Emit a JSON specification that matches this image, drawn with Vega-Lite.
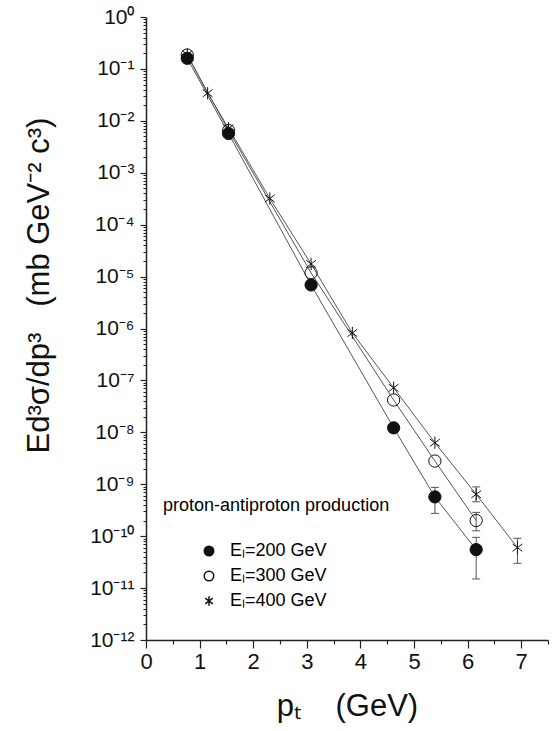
{
  "$schema": "https://vega.github.io/schema/vega-lite/v6.json",
  "autosize": "none",
  "padding": {"left": 146, "top": 17, "right": 4, "bottom": 91},
  "width": 402,
  "height": 623,
  "background": "white",
  "config": {
    "view": {"stroke": null},
    "font": "Liberation Sans",
    "axis": {"grid": false, "domainColor": "#222", "tickColor": "#222", "labelColor": "#111", "titleColor": "#111", "domainWidth": 1.5, "tickWidth": 1.2, "titleFontWeight": "normal", "labelFont": "Liberation Sans", "titleFont": "Liberation Sans"},
    "legend": {"labelFont": "Liberation Sans", "titleFont": "Liberation Sans"}
  },
  "datasets": {
    "pts": [
      {"E": 200, "pT": 0.77, "v": 0.16},
      {"E": 200, "pT": 1.54, "v": 0.0057},
      {"E": 200, "pT": 3.08, "v": 6.9e-6},
      {"E": 200, "pT": 4.62, "v": 1.22e-8},
      {"E": 200, "pT": 5.39, "v": 5.7e-10},
      {"E": 200, "pT": 6.16, "v": 5.5e-11},
      {"E": 300, "pT": 0.77, "v": 0.185},
      {"E": 300, "pT": 1.54, "v": 0.0065},
      {"E": 300, "pT": 3.08, "v": 1.18e-5},
      {"E": 300, "pT": 4.62, "v": 4.2e-8},
      {"E": 300, "pT": 5.39, "v": 2.8e-9},
      {"E": 300, "pT": 6.16, "v": 2.0e-10},
      {"E": 400, "pT": 0.77, "v": 0.19},
      {"E": 400, "pT": 1.15, "v": 0.034},
      {"E": 400, "pT": 1.54, "v": 0.0072},
      {"E": 400, "pT": 2.31, "v": 3.2e-4},
      {"E": 400, "pT": 3.08, "v": 1.75e-5},
      {"E": 400, "pT": 3.85, "v": 8.2e-7},
      {"E": 400, "pT": 4.62, "v": 7.2e-8},
      {"E": 400, "pT": 5.39, "v": 6.3e-9},
      {"E": 400, "pT": 6.16, "v": 6.4e-10},
      {"E": 400, "pT": 6.93, "v": 6.0e-11}
    ],
    "err": [
      {"E": 200, "pT": 5.39, "lo": 2.75e-10, "hi": 8.7e-10},
      {"E": 200, "pT": 6.16, "lo": 1.5e-11, "hi": 9.5e-11},
      {"E": 300, "pT": 6.16, "lo": 1.27e-10, "hi": 2.87e-10},
      {"E": 400, "pT": 6.16, "lo": 4.6e-10, "hi": 8.9e-10},
      {"E": 400, "pT": 6.93, "lo": 3.0e-11, "hi": 9.1e-11}
    ]
  },
  "resolve": {"axis": {"x": "independent", "y": "independent"}},
  "layer": [
    {
      "data": {"name": "pts"},
      "mark": {"type": "line", "stroke": "#555", "strokeWidth": 1},
      "encoding": {
        "x": {"field": "pT", "type": "quantitative", "scale": {"domain": [0, 7.5], "nice": false},
          "axis": {"orient": "top", "offset": -623, "values": [0.5, 1.5, 2.5, 3.5, 4.5, 5.5, 6.5, 7.5], "labels": false, "domain": false, "tickSize": -4, "title": null}},
        "y": {"field": "v", "type": "quantitative", "scale": {"type": "log", "domain": [1e-12, 1], "nice": false},
          "axis": {"orient": "right", "offset": -402, "labels": false, "domain": false, "tickSize": -3, "tickWidth": 1, "title": null,
            "values": [2e-12,3e-12,4e-12,5e-12,6e-12,7e-12,8e-12,9e-12,2e-11,3e-11,4e-11,5e-11,6e-11,7e-11,8e-11,9e-11,2e-10,3e-10,4e-10,5e-10,6e-10,7e-10,8e-10,9e-10,2e-9,3e-9,4e-9,5e-9,6e-9,7e-9,8e-9,9e-9,2e-8,3e-8,4e-8,5e-8,6e-8,7e-8,8e-8,9e-8,2e-7,3e-7,4e-7,5e-7,6e-7,7e-7,8e-7,9e-7,2e-6,3e-6,4e-6,5e-6,6e-6,7e-6,8e-6,9e-6,2e-5,3e-5,4e-5,5e-5,6e-5,7e-5,8e-5,9e-5,2e-4,3e-4,4e-4,5e-4,6e-4,7e-4,8e-4,9e-4,2e-3,3e-3,4e-3,5e-3,6e-3,7e-3,8e-3,9e-3,0.02,0.03,0.04,0.05,0.06,0.07,0.08,0.09,0.2,0.3,0.4,0.5,0.6,0.7,0.8,0.9]}},
        "detail": {"field": "E", "type": "nominal"}
      }
    },
    {
      "data": {"name": "err"},
      "mark": {"type": "rule", "stroke": "#555", "strokeWidth": 1},
      "encoding": {
        "x": {"field": "pT", "type": "quantitative", "scale": {"domain": [0, 7.5], "nice": false}, "axis": null},
        "y": {"field": "lo", "type": "quantitative", "scale": {"type": "log", "domain": [1e-12, 1], "nice": false}, "axis": null},
        "y2": {"field": "hi"}
      }
    },
    {
      "data": {"name": "err"},
      "mark": {"type": "tick", "orient": "horizontal", "size": 8, "thickness": 1, "color": "#555", "opacity": 1},
      "encoding": {
        "x": {"field": "pT", "type": "quantitative", "scale": {"domain": [0, 7.5], "nice": false}, "axis": null},
        "y": {"field": "lo", "type": "quantitative", "scale": {"type": "log", "domain": [1e-12, 1], "nice": false}, "axis": null}
      }
    },
    {
      "data": {"name": "err"},
      "mark": {"type": "tick", "orient": "horizontal", "size": 8, "thickness": 1, "color": "#555", "opacity": 1},
      "encoding": {
        "x": {"field": "pT", "type": "quantitative", "scale": {"domain": [0, 7.5], "nice": false}, "axis": null},
        "y": {"field": "hi", "type": "quantitative", "scale": {"type": "log", "domain": [1e-12, 1], "nice": false}, "axis": null}
      }
    },
    {
      "data": {"name": "pts"},
      "mark": {"type": "point", "filled": false, "stroke": "#111", "strokeWidth": 1, "size": 150, "opacity": 1},
      "encoding": {
        "x": {"field": "pT", "type": "quantitative", "scale": {"domain": [0, 7.5], "nice": false},
          "axis": {"orient": "bottom", "values": [0, 1, 2, 3, 4, 5, 6, 7], "tickSize": 8, "labelFontSize": 22, "labelPadding": 3, "labelFlush": false,
            "title": "pₜ\u00a0\u00a0\u00a0\u00a0(GeV)", "titleFontSize": 31, "titleX": 201, "titleY": 75, "titleAlign": "center", "titleBaseline": "alphabetic"}},
        "y": {"field": "v", "type": "quantitative", "scale": {"type": "log", "domain": [1e-12, 1], "nice": false},
          "axis": {"orient": "left", "values": [1e-12,1e-11,1e-10,1e-9,1e-8,1e-7,1e-6,1e-5,1e-4,1e-3,1e-2,1e-1,1], "tickSize": 6, "labelFontSize": 21, "labelPadding": 6, "labelFlush": false, "labelOverlap": false,
            "labelExpr": "['10⁰','10⁻¹','10⁻²','10⁻³','10⁻⁴','10⁻⁵','10⁻⁶','10⁻⁷','10⁻⁸','10⁻⁹','10⁻¹⁰','10⁻¹¹','10⁻¹²'][round(-log(datum.value)/LN10)]",
            "title": "Ed³σ/dp³\u00a0\u00a0\u00a0(mb GeV⁻² c³)", "titleFontSize": 31, "titleAngle": 270, "titleX": -98, "titleY": 268, "titleAlign": "center", "titleBaseline": "alphabetic"}},
        "shape": {"field": "E", "type": "nominal",
          "scale": {"domain": [200, 300, 400], "range": ["circle", "circle", "M0,-1L0,1M-0.8,-0.6L0.8,0.6M-0.8,0.6L0.8,-0.6"]},
          "legend": {"orient": "none", "legendX": 17, "legendY": 480, "title": "proton-antiproton production", "titleLimit": 500, "titleFontSize": 18, "titleFontWeight": "normal", "titlePadding": 27, "labelFontSize": 18, "labelExpr": "'Eₗ=' + datum.label + ' GeV'", "symbolOffset": 37, "symbolSize": 90, "rowPadding": 7, "labelOffset": 12, "padding": 0,
            "encode": {"symbols": {"update": {"stroke": {"value": "#111"}, "strokeWidth": {"value": 1}}}}}},
        "fill": {"field": "E", "type": "nominal",
          "scale": {"domain": [200, 300, 400], "range": ["#111", "transparent", "transparent"]},
          "legend": {"orient": "none", "legendX": 17, "legendY": 480, "title": "proton-antiproton production", "titleLimit": 500, "titleFontSize": 18, "titleFontWeight": "normal", "titlePadding": 27, "labelFontSize": 18, "labelExpr": "'Eₗ=' + datum.label + ' GeV'", "symbolOffset": 37, "symbolSize": 90, "rowPadding": 7, "labelOffset": 12, "padding": 0,
            "encode": {"symbols": {"update": {"stroke": {"value": "#111"}, "strokeWidth": {"value": 1}}}}}}
      }
    }
  ]
}
